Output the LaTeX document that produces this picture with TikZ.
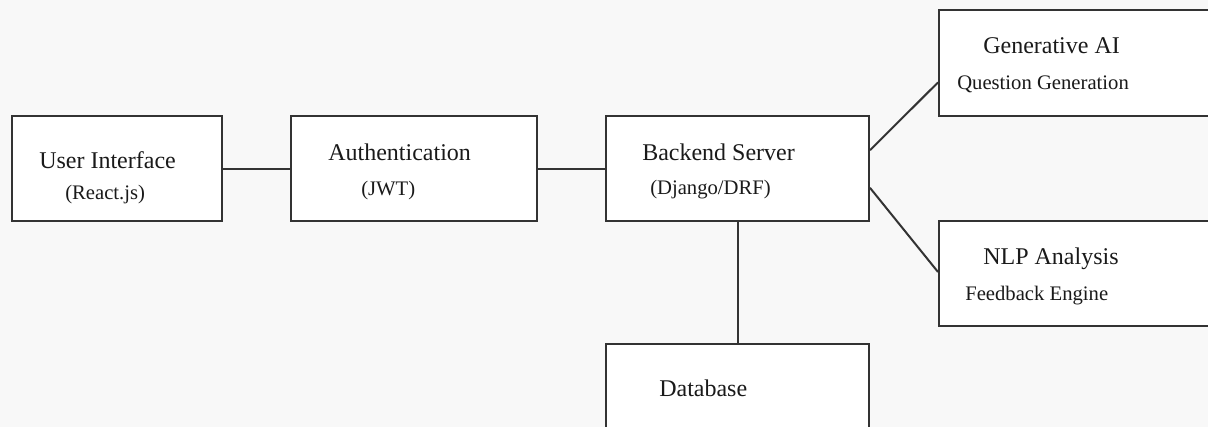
\documentclass[tikz,border=0pt]{standalone}
\usepackage{fontspec}
\setmainfont{Liberation Serif}
\usetikzlibrary{calc}
\definecolor{bg}{HTML}{F8F8F8}
\definecolor{ink}{HTML}{333333}
\definecolor{txt}{HTML}{1A1A1A}
\tikzset{
  box/.style={draw=ink, line width=1.5pt, fill=white, rectangle, inner sep=0pt},
  link/.style={draw=ink, line width=1.5pt},
  title/.style={anchor=base west, inner sep=0pt, text=txt, font=\fontsize{18}{20}\selectfont},
  sub/.style={anchor=base west, inner sep=0pt, text=txt, font=\fontsize{15.5}{18}\selectfont},
}
\begin{document}
\begin{tikzpicture}[x=0.75pt, y=-0.75pt]
  \fill[bg] (0,0) rectangle (1208,427);
  \useasboundingbox (0,0) rectangle (1208,427);
  \clip (0,0) rectangle (1208,427);

  % boxes: centre, width, height in px
  \node[box, minimum width=210*0.75pt, minimum height=105*0.75pt] (ui) at (117,169) {};
  \node[box, minimum width=246*0.75pt, minimum height=105*0.75pt] (auth) at (414,169) {};
  \node[box, minimum width=263*0.75pt, minimum height=105*0.75pt] (be) at (737.5,169) {};
  \node[box, minimum width=290*0.75pt, minimum height=106*0.75pt] (ga) at (1084,63) {};
  \node[box, minimum width=290*0.75pt, minimum height=105*0.75pt] (nlp) at (1084,273.5) {};
  \node[box, minimum width=263*0.75pt, minimum height=110*0.75pt] (db) at (737.5,399) {};

  % connectors
  \draw[link] (ui.east) -- (auth.west);
  \draw[link] (auth.east) -- (be.west);
  \draw[link] ($(be.north east)!0.324!(be.south east)$) -- ($(ga.north west)!0.68!(ga.south west)$);
  \draw[link] ($(be.north east)!0.676!(be.south east)$) -- ($(nlp.north west)!0.486!(nlp.south west)$);
  \draw[link] (be.south) -- (db.north);

  % labels
  \node[title] (ui-t) at (39,169) {User Interface};
  \node[sub] (ui-s) at (65,200) {(React.js)};
  \node[title] (auth-t) at (328,161) {Authentication};
  \node[sub] (auth-s) at (361,196) {(JWT)};
  \node[title] (be-t) at (642,161) {Backend Server};
  \node[sub] (be-s) at (650,195) {(Django/DRF)};
  \node[title] (ga-t) at (983,54) {Generative AI};
  \node[sub] (ga-s) at (957,90) {Question Generation};
  \node[title] (nlp-t) at (983,265) {NLP Analysis};
  \node[sub] (nlp-s) at (965,301) {Feedback Engine};
  \node[title] (db-t) at (659,397) {Database};
\end{tikzpicture}
\end{document}
